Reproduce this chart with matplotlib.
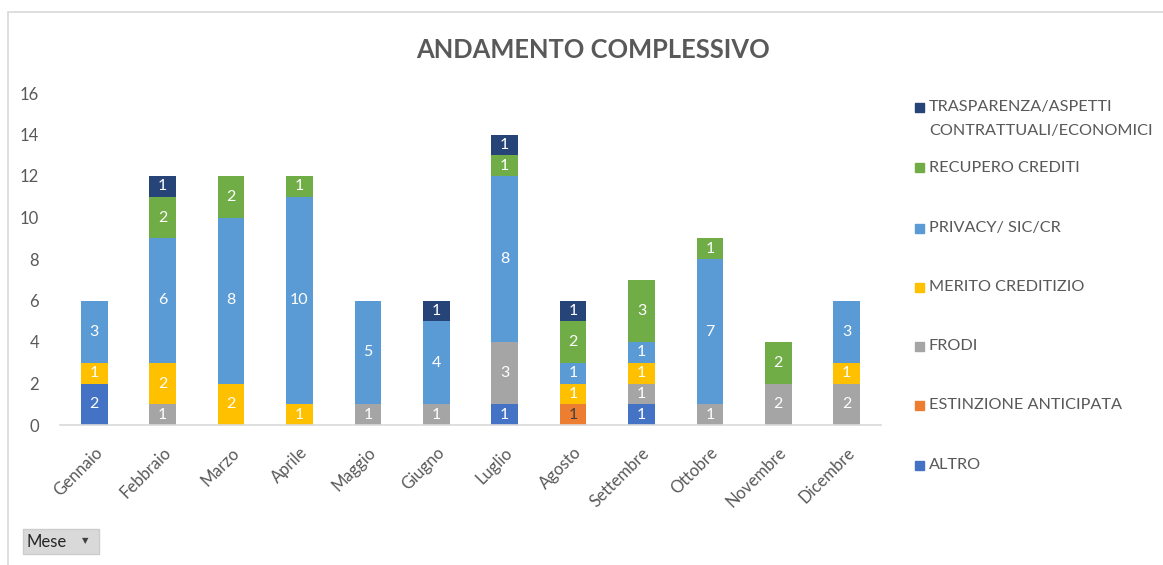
import matplotlib
matplotlib.use("Agg")
import matplotlib.pyplot as plt
from matplotlib.patches import Rectangle
import numpy as np

months = ["Gennaio", "Febbraio", "Marzo", "Aprile", "Maggio", "Giugno",
          "Luglio", "Agosto", "Settembre", "Ottobre", "Novembre", "Dicembre"]

altro       = [2, 0, 0, 0, 0, 0, 1, 0, 1, 0, 0, 0]
estinzione  = [0, 0, 0, 0, 0, 0, 0, 1, 0, 0, 0, 0]
frodi       = [0, 1, 0, 0, 1, 1, 3, 0, 1, 1, 2, 2]
merito      = [1, 2, 2, 1, 0, 0, 0, 1, 1, 0, 0, 1]
privacy     = [3, 6, 8, 10, 5, 4, 8, 1, 1, 7, 0, 3]
recupero    = [0, 2, 2, 1, 0, 0, 1, 2, 3, 1, 2, 0]
trasparenza = [0, 1, 0, 0, 0, 1, 1, 1, 0, 0, 0, 0]

series_names = ["ALTRO", "ESTINZIONE ANTICIPATA", "FRODI", "MERITO CREDITIZIO",
                "PRIVACY/ SIC/CR", "RECUPERO CREDITI",
                "TRASPARENZA/ASPETTI\nCONTRATTUALI/ECONOMICI"]
series_values = [altro, estinzione, frodi, merito, privacy, recupero, trasparenza]
series_colors = ["#4472C4", "#ED7D31", "#A5A5A5", "#FFC000", "#5B9BD5", "#70AD47", "#264478"]
label_colors = ["white", "#404040", "white", "white", "white", "white", "white"]

y_ticks = [0, 2, 4, 6, 8, 10, 12, 14, 16]

W, H = 1163, 565
fig = plt.figure(figsize=(W / 100, H / 100), dpi=100)
FONT = "Lato"
TXT = "#595959"

def fx(px):
    return px / W

def fy(py):
    return 1 - py / H

# chart area border
fig.patches.append(Rectangle((fx(8), fy(600)), fx(1200), fy(12) - fy(600),
                             transform=fig.transFigure, fill=False,
                             edgecolor="#D9D9D9", linewidth=1.2))

ax = fig.add_axes([fx(60), fy(425), fx(881) - fx(60), fy(93) - fy(425)])
x = np.arange(len(months))
bottom = np.zeros(len(months))
for name, vals, col, lcol in zip(series_names, series_values, series_colors, label_colors):
    v = np.array(vals, dtype=float)
    bars = ax.bar(x, v, width=0.39, bottom=bottom, color=col, label=name, zorder=2)
    labels = [str(int(val)) if val > 0 else "" for val in v]
    ax.bar_label(bars, labels=labels, label_type="center", color=lcol,
                 fontsize=11.5, family=FONT)
    bottom += v

ax.set_xlim(-0.5, len(months) - 0.5)
ax.set_ylim(0, 16)
ax.set_yticks(y_ticks)
ax.set_yticklabels([str(t) for t in y_ticks], fontsize=12, color=TXT, family=FONT)
ax.set_xticks(x)
ax.set_xticklabels(months, rotation=45, ha="right", va="top", rotation_mode="anchor",
                   fontsize=12, color=TXT, family=FONT)
ax.tick_params(axis="both", length=0)
ax.tick_params(axis="y", pad=15)
ax.tick_params(axis="x", pad=14)
for s in ["top", "right", "left"]:
    ax.spines[s].set_visible(False)
ax.spines["bottom"].set_color("#D9D9D9")
ax.spines["bottom"].set_linewidth(1.2)

fig.text(fx(593), fy(50), "ANDAMENTO COMPLESSIVO", ha="center", va="center",
         fontsize=18.4, fontweight="bold", color=TXT, family=FONT)

# legend (top entry first)
leg_y = [107, 168, 228, 287, 346, 405, 465]
for i, (name, col) in enumerate(zip(series_names[::-1], series_colors[::-1])):
    yy = leg_y[i]
    fig.patches.append(Rectangle((fx(915), fy(yy + 4.5)), fx(9), fy(0) - fy(9),
                                 transform=fig.transFigure, color=col))
    lines = name.split("\n")
    for j, ln in enumerate(lines):
        fig.text(fx(929), fy(yy + j * 24), ln, ha="left", va="center",
                 fontsize=11.7, color=TXT, family=FONT)

# field button
fig.patches.append(Rectangle((fx(23), fy(554)), fx(76), fy(529) - fy(554),
                             transform=fig.transFigure, facecolor="#D9D9D9",
                             edgecolor="#CCCCCC", linewidth=1))
fig.text(fx(27), fy(542), "Mese", ha="left", va="center", fontsize=12,
         color="#262626", family=FONT)
fig.text(fx(85), fy(541), "\u25BC", ha="center", va="center", fontsize=6,
         color="#404040", family="DejaVu Sans")

fig.savefig("out.png", dpi=100)
